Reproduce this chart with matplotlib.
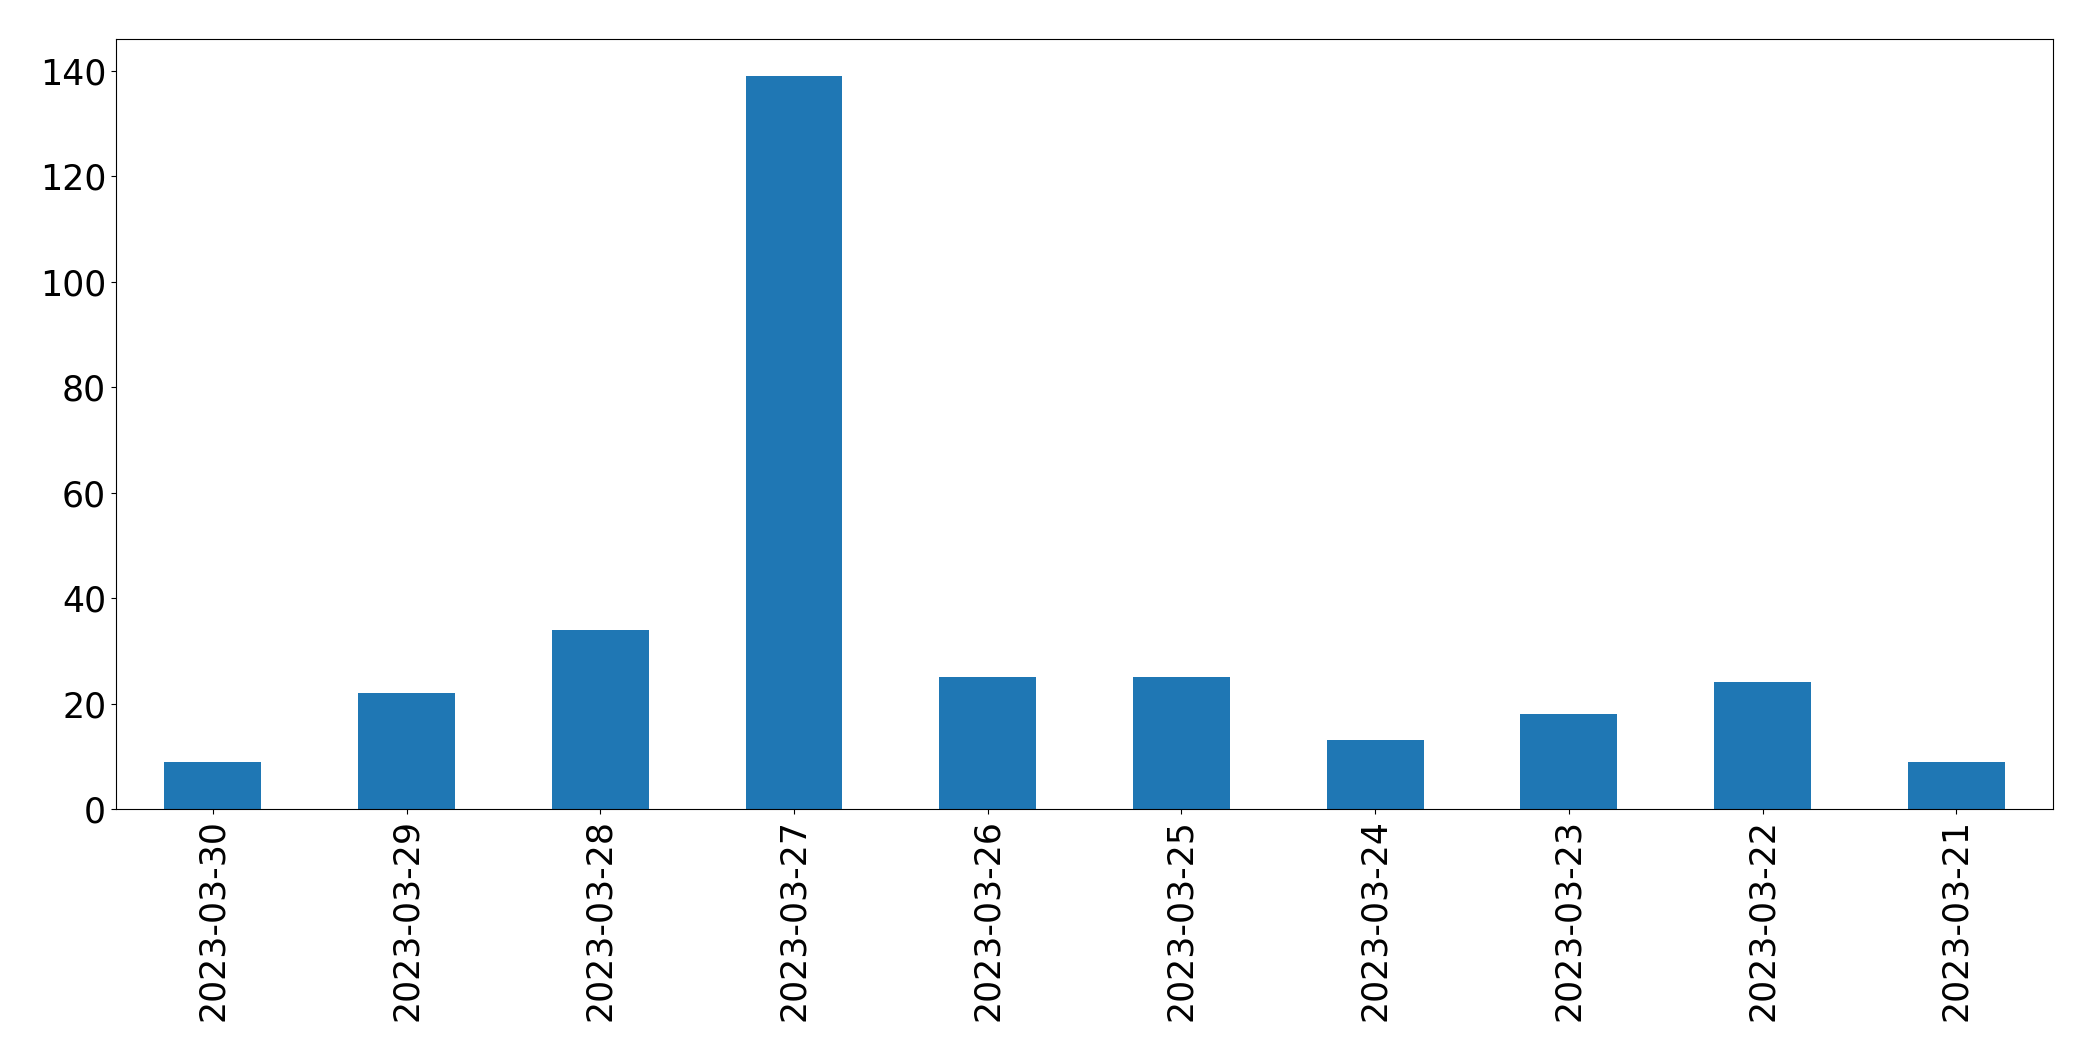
import pandas as pd
import matplotlib.pyplot as plt

dates = ["2023-03-30", "2023-03-29", "2023-03-28", "2023-03-27", "2023-03-26",
         "2023-03-25", "2023-03-24", "2023-03-23", "2023-03-22", "2023-03-21"]
counts = [9, 22, 34, 139, 25, 25, 13, 18, 24, 9]

s = pd.Series(counts, index=dates)

fig = plt.figure(figsize=(20.93, 10.61), dpi=100)
ax = s.plot(kind="bar", color="#1f77b4", fontsize=25)
plt.subplots_adjust(left=0.0554, right=0.981, top=0.963, bottom=0.2375)
plt.savefig("out.png", dpi=100)
